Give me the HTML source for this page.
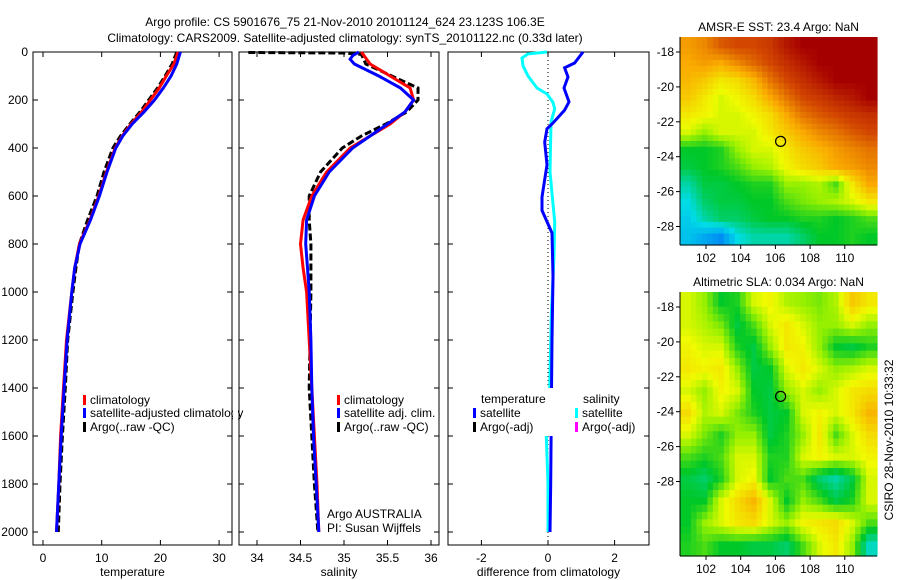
<!DOCTYPE html>
<html><head><meta charset="utf-8"><style>
html,body{margin:0;padding:0;background:#fff;}
svg{display:block;font-family:"Liberation Sans",sans-serif;}
text{font-size:12px;fill:#000;}
</style></head><body>
<svg id="c" width="900" height="580" viewBox="0 0 900 580" xmlns="http://www.w3.org/2000/svg">
<text x="345" y="26" text-anchor="middle">Argo profile: CS 5901676_75 21-Nov-2010 20101124_624 23.123S 106.3E</text>
<text x="345" y="42" text-anchor="middle">Climatology: CARS2009. Satellite-adjusted climatology: synTS_20101122.nc (0.33d later)</text>
<g id="g"></g>
<text transform="translate(893,440) rotate(-90)" text-anchor="middle">CSIRO 28-Nov-2010 10:33:32</text>
</svg>
<script>
const depths=[0,50,100,150,200,250,300,350,400,500,600,700,800,900,1000,1200,1400,1600,1800,2000];
const tempClim=[23,22.3,21,19.8,18.3,16.8,15,13.5,12.3,10.8,9.5,8,6.2,5.4,4.9,4,3.5,3,2.7,2.3];
const tempSat=[23.4,22.8,21.8,20.5,19,17.2,15.2,13.6,12.4,10.9,9.6,8.1,6.3,5.4,4.9,4.1,3.6,3.1,2.7,2.3];
const tempArgo=[22.8,22,20.8,19.5,18,16.5,14.8,13.2,11.9,10.4,9.2,7.6,6.2,5.6,5.1,4.2,3.8,3.3,2.9,2.6];
const salClim=[35.2,35.3,35.53,35.76,35.8,35.7,35.53,35.3,35.07,34.8,34.63,34.53,34.5,34.53,34.57,34.6,34.63,34.66,34.69,34.71];
const salSatDepths=[0,15,30,50,100,150,200,250,300,350,400,500,600,700,800,900,1000,1200,1400,1600,1800,2000];
const salSat=[35.17,35.1,35.07,35.12,35.4,35.65,35.8,35.7,35.5,35.3,35.1,34.83,34.66,34.57,34.56,34.58,34.6,34.62,34.63,34.65,34.68,34.71];
const argoSalDepths=[2,4,10,50,100,150,200,250,300,350,400,500,600,700,800,900,1000,1400,1800,2000];
const salArgo=[33.9,35.0,35.2,35.25,35.55,35.85,35.85,35.72,35.48,35.2,34.98,34.73,34.6,34.6,34.62,34.62,34.62,34.6,34.66,34.7];
const diffTDepths=[0,46,66,104,150,208,242,296,320,375,470,604,660,754,935,1200,1500,1800,2000];
const diffT=[1.05,0.8,0.5,0.6,0.48,0.63,0.5,0.15,-0.03,-0.1,-0.03,-0.18,-0.18,0.12,0.15,0.12,0.1,0.08,0.06];
const diffSDepths=[0,8,25,57,100,150,175,210,237,292,500,708,850,1100,1400,1600,1800,2000];
const diffS=[-0.03,-0.6,-0.78,-0.75,-0.6,-0.33,-0.03,0.15,0.2,0.09,0.06,0.2,0.18,0.1,0.05,-0.05,0,0];
const sstGrid=[
[.72,.75,.82,.85,.85,.88,.95,1,1,1,1,1],
[.7,.72,.7,.75,.8,.85,.9,.95,1,1,1,1],
[.68,.65,.6,.62,.68,.78,.85,.9,.95,1,1,1],
[.65,.6,.55,.58,.62,.7,.78,.85,.88,.92,.95,1],
[.6,.58,.55,.55,.58,.62,.7,.78,.82,.85,.88,.9],
[.55,.5,.55,.55,.55,.6,.65,.7,.75,.78,.82,.85],
[.4,.4,.42,.5,.55,.55,.6,.65,.68,.72,.75,.78],
[.38,.4,.42,.45,.5,.52,.58,.62,.65,.7,.72,.75],
[.3,.38,.38,.4,.42,.42,.5,.5,.52,.45,.6,.7],
[.25,.35,.38,.38,.4,.4,.45,.48,.5,.52,.55,.6],
[.22,.3,.35,.35,.38,.4,.4,.42,.42,.4,.42,.45],
[.2,.15,.1,.25,.3,.3,.3,.35,.4,.4,.42,.4]];
const slaGrid=[
[.55,.5,.4,.42,.55,.58,.52,.5,.48,.52,.65,.6],
[.55,.52,.48,.38,.45,.55,.6,.55,.5,.5,.55,.5],
[.58,.55,.55,.42,.38,.5,.6,.58,.5,.4,.38,.42],
[.6,.58,.6,.5,.38,.4,.55,.6,.55,.5,.52,.55],
[.55,.5,.58,.55,.4,.38,.5,.55,.5,.55,.6,.62],
[.62,.52,.55,.48,.42,.38,.4,.55,.58,.55,.6,.68],
[.55,.48,.42,.5,.5,.38,.42,.5,.6,.45,.55,.62],
[.45,.42,.45,.55,.55,.42,.42,.55,.58,.55,.55,.58],
[.38,.35,.42,.55,.58,.4,.45,.45,.35,.3,.38,.55],
[.4,.4,.55,.62,.68,.55,.4,.5,.45,.38,.42,.55],
[.4,.5,.55,.6,.62,.55,.5,.58,.6,.62,.55,.45],
[.42,.45,.4,.4,.38,.38,.35,.45,.55,.6,.5,.28]];
const depthTicks=[0,200,400,600,800,1000,1200,1400,1600,1800,2000];
const tempTicks=[0,10,20,30];
const salTicks=[34,34.5,35,35.5,36];
const diffTicks=[-2,0,2];
const lonTicks=[102,104,106,108,110];
const latTicks=[-18,-20,-22,-24,-26,-28];
const argoLon=106.3, argoLat=-23.123;

const NS='http://www.w3.org/2000/svg';
const G=document.getElementById('g');
function el(tag,attrs,parent){const e=document.createElementNS(NS,tag);for(const k in attrs)e.setAttribute(k,attrs[k]);(parent||G).appendChild(e);return e;}
function txt(x,y,s,anchor,parent){const t=el('text',{x:x,y:y,'text-anchor':anchor||'start'},parent);t.textContent=s;return t;}
const yD=d=>52+d*0.24;
const PB=545;

function panel(name,x0,x1,xs,ticks,fmt,label){
  const g=el('g',{});
  
  
  const r=el('rect',{x:x0,y:52,width:x1-x0,height:PB-52,fill:'none',stroke:'#000','stroke-width':1},g);
  
  
  ticks.forEach(v=>{const x=xs(v);el('line',{x1:x,x2:x,y1:PB,y2:PB-5,stroke:'#000'},g);el('line',{x1:x,x2:x,y1:52,y2:57,stroke:'#000'},g);
    const t=txt(x,PB+17,fmt(v),'middle',g);
    
    });
  depthTicks.forEach(d=>{const y=yD(d);el('line',{x1:x0,x2:x0+5,y1:y,y2:y,stroke:'#000'},g);el('line',{x1:x1,x2:x1-5,y1:y,y2:y,stroke:'#000'},g);});
  const l=txt((x0+x1)/2,576,label,'middle',g);
  
  
  return g;
}
function line(g,xs,vals,deps,color,dash,name){
  const p=vals.map((v,i)=>xs(v).toFixed(1)+','+yD(deps[i]).toFixed(1)).join(' ');
  const e=el('polyline',{points:p,fill:'none',stroke:color,'stroke-width':3,'stroke-dasharray':dash||'none'},g);
  
  
}
function legend(g,x,y,color,label,name){
  el('rect',{x:x,y:y-9,width:3,height:10,fill:color},g);
  const t=txt(x+7,y,label,'start',g);
  
  
}
depthTicks.forEach(d=>{const t=txt(28,yD(d)+4,String(d),'end');
  
  });

const xT=v=>43+v*5.87;
const p1=panel('temperature-panel',33,232,xT,tempTicks,String,'temperature');
line(p1,xT,tempArgo,depths,'#000','7,3','temperature-argo-line');
line(p1,xT,tempClim,depths,'#f00',null,'temperature-climatology-line');
line(p1,xT,tempSat,depths,'#00f',null,'temperature-satellite-line');
legend(p1,83,404,'#f00','climatology','legend-climatology');
legend(p1,83,417,'#00f','satellite-adjusted climatology','legend-satellite');
legend(p1,83,431,'#000','Argo(..raw -QC)','legend-argo');
el('rect',{x:233,y:395,width:5,height:40,fill:'#fff'},p1);

const xS=v=>257+(v-34)*87;
const p2=panel('salinity-panel',239,439,xS,salTicks,String,'salinity');
line(p2,v=>Math.max(240,xS(v)),salArgo,argoSalDepths,'#000','7,3','salinity-argo-line');
line(p2,xS,salClim,depths,'#f00',null,'salinity-climatology-line');
line(p2,xS,salSat,salSatDepths,'#00f',null,'salinity-satellite-line');
legend(p2,337,404,'#f00','climatology','legend-sal-climatology');
legend(p2,337,417,'#00f','satellite adj. clim.','legend-sal-satellite');
legend(p2,337,431,'#000','Argo(..raw -QC)','legend-sal-argo');
const a1=txt(327,518,'Argo AUSTRALIA','start',p2);
const a2=txt(327,532,'PI: Susan Wijffels','start',p2);

const xDf=v=>548+v*33.3;
const p3=panel('difference-panel',448,649,xDf,diffTicks,String,'difference from climatology');
el('line',{x1:xDf(0),x2:xDf(0),y1:52,y2:PB,stroke:'#000','stroke-dasharray':'1,3'},p3);
line(p3,xDf,diffS,diffSDepths,'#0ff',null,'salinity-diff-line');
line(p3,xDf,diffT,diffTDepths,'#00f',null,'temperature-diff-line');
el('rect',{x:478,y:388,width:92,height:48,fill:'#fff'},p3);
el('rect',{x:581,y:388,width:62,height:48,fill:'#fff'},p3);
const tl=txt(481,403,'temperature','start',p3);
legend(p3,473,417,'#00f','satellite','legend-temp-satellite');
legend(p3,473,431,'#000','Argo(-adj)','legend-temp-argo');
const sl=txt(583,403,'salinity','start',p3);
legend(p3,575,417,'#0ff','satellite','legend-sal-satellite-diff');
legend(p3,575,431,'#f0f','Argo(-adj)','legend-sal-argo-diff');

function jet(v){
  const stops=[[0,[0,90,255]],[.25,[0,220,230]],[.4,[0,200,40]],[.5,[150,240,0]],[.57,[240,250,0]],[.7,[250,170,0]],[.85,[210,70,0]],[1,[165,0,0]]];
  for(let i=1;i<stops.length;i++){if(v<=stops[i][0]){const a=stops[i-1],b=stops[i],t=(v-a[0])/(b[0]-a[0]);
    return 'rgb('+a[1].map((c,j)=>Math.round(c+(b[1][j]-c)*t)).join(',')+')';}}
  return 'rgb(165,0,0)';
}
function sample(grid,fi,fj){
  const nr=grid.length,nc=grid[0].length;
  fi=Math.max(0,Math.min(nr-1,fi));fj=Math.max(0,Math.min(nc-1,fj));
  const i0=Math.floor(fi),j0=Math.floor(fj),i1=Math.min(nr-1,i0+1),j1=Math.min(nc-1,j0+1),ti=fi-i0,tj=fj-j0;
  const a=grid[i0][j0]*(1-tj)+grid[i0][j1]*tj,b=grid[i1][j0]*(1-tj)+grid[i1][j1]*tj;
  return a*(1-ti)+b*ti;
}
function map(name,grid,y0,y1,lat18,pxPerDeg,title){
  const x0=680,x1=877;
  const g=el('g',{});
  
  
  const nr=grid.length,nc=grid[0].length,S=3;
  const cw=(x1-x0)/(nc*S),ch=(y1-y0)/(nr*S);
  for(let i=0;i<nr*S;i++)for(let j=0;j<nc*S;j++){
    const v=sample(grid,(i+0.5)/S-0.5,(j+0.5)/S-0.5);
    const c=el('rect',{x:(x0+j*cw).toFixed(2),y:(y0+i*ch).toFixed(2),width:(cw+0.6).toFixed(2),height:(ch+0.6).toFixed(2),fill:jet(v)},g);
    
    
  }
  el('line',{x1:x0,x2:x0,y1:y0,y2:y1,stroke:'#000'},g);
  el('line',{x1:x0,x2:x1,y1:y1,y2:y1,stroke:'#000'},g);
  const lx=v=>706+(v-102)*17.35;
  const ly=v=>lat18+(-18-v)*pxPerDeg;
  lonTicks.forEach(v=>{el('line',{x1:lx(v),x2:lx(v),y1:y1,y2:y1+4,stroke:'#000'},g);
    const t=txt(lx(v),y1+17,String(v),'middle',g);});
  latTicks.forEach(v=>{el('line',{x1:x0-4,x2:x0,y1:ly(v),y2:ly(v),stroke:'#000'},g);
    const t=txt(x0-6,ly(v)+4,String(v),'end',g);});
  const m=el('ellipse',{cx:lx(argoLon),cy:ly(argoLat),rx:5,ry:5,fill:'none',stroke:'#000','stroke-width':1.2},g);
  
  
  const t=txt((x0+x1)/2,y0-6,title,'middle',g);
  
  
}
map('sst-map',sstGrid,37,245,52,17.45,'AMSR-E SST: 23.4 Argo: NaN');
map('sla-map',slaGrid,292,556,307,17.45,'Altimetric SLA: 0.034 Argo: NaN');
</script>
</body></html>
